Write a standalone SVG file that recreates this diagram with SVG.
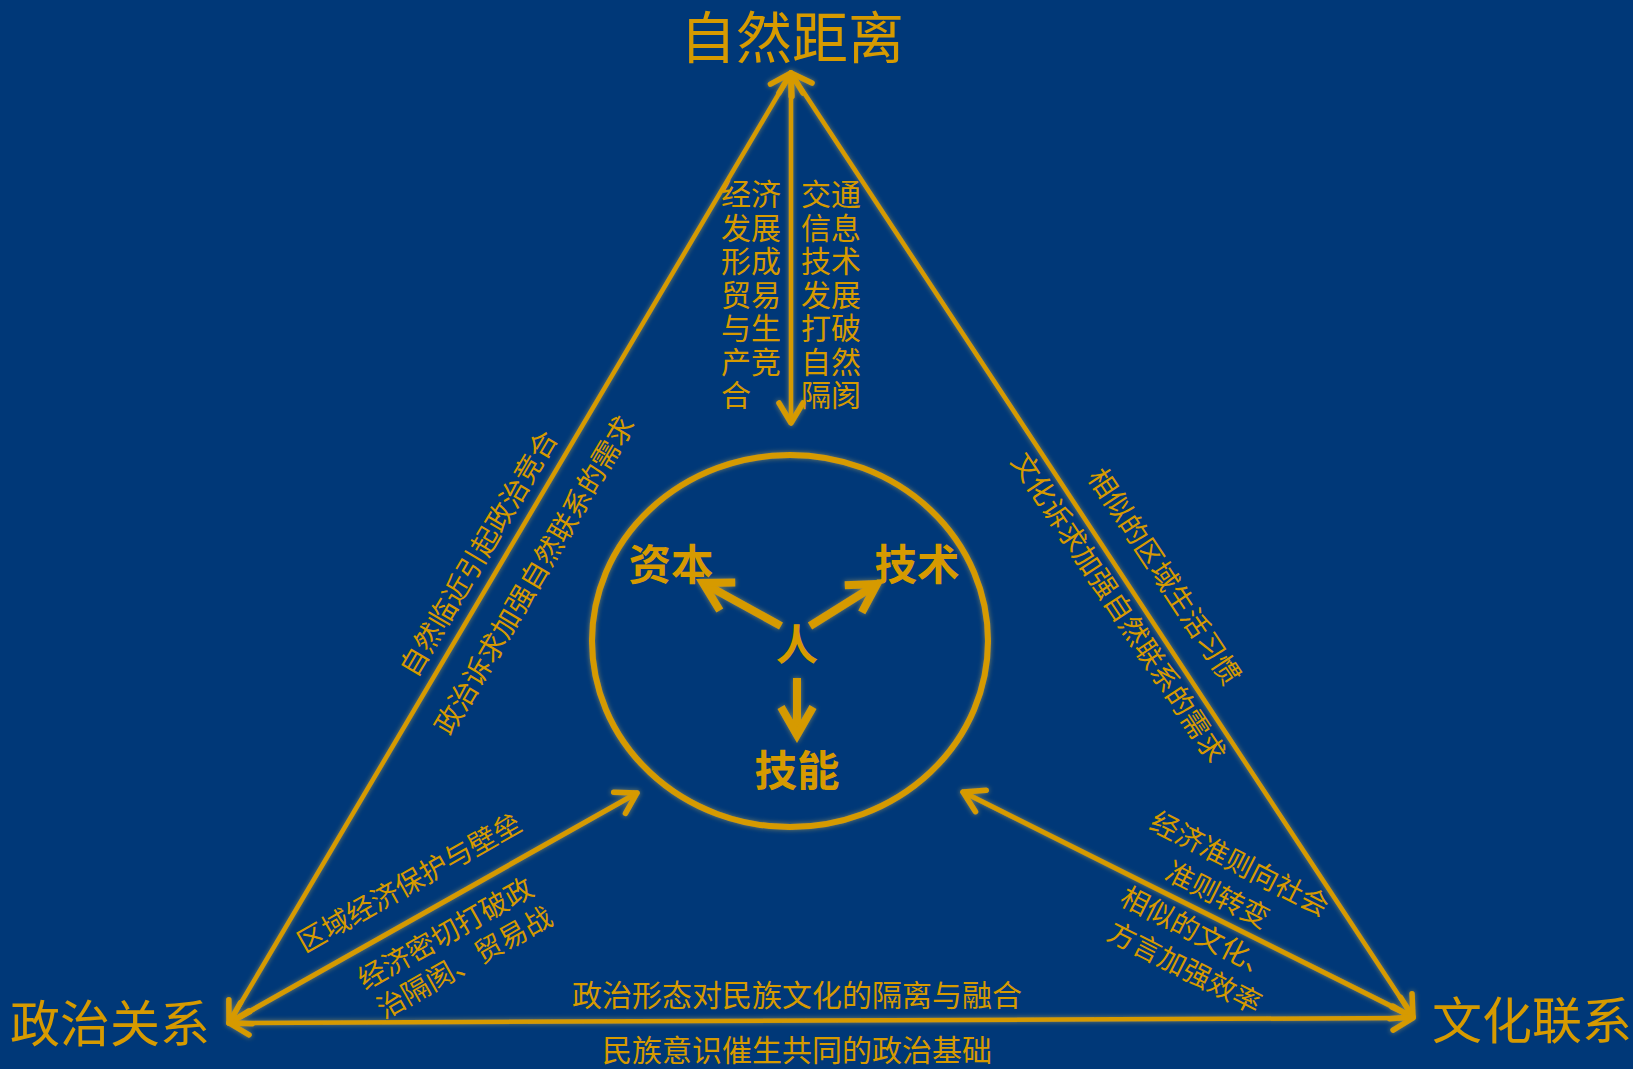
<svg xmlns="http://www.w3.org/2000/svg" width="1633" height="1069" viewBox="0 0 1633 1069">
  <defs>
    <style>
      .ln { stroke: #D69A00; stroke-width: 4.5; fill: none; stroke-linecap: round; }
      .ln2 { stroke: #D69A00; stroke-width: 5; fill: none; stroke-linecap: round; }
      .inner { stroke: #D69A00; stroke-width: 8; fill: none; stroke-linecap: butt; }
      .t { font-family: "Noto Sans CJK SC", "Noto Sans", sans-serif; fill: #D69A00; }
      .big { font-size: 50px; }
      .sm { font-size: 30px; }
      .rot { font-size: 28px; }
      .bold { font-size: 42.5px; font-weight: bold; }
    </style>
    <marker id="ah" markerUnits="userSpaceOnUse" markerWidth="60" markerHeight="60" viewBox="-30 -30 60 60" refX="0" refY="0" orient="auto-start-reverse" overflow="visible">
      <path d="M-20,-12 L0,0 L-20,12" fill="none" stroke="#D69A00" stroke-width="5.5" stroke-linecap="round" stroke-linejoin="round"/>
    </marker>
    <marker id="ahb" markerUnits="userSpaceOnUse" markerWidth="80" markerHeight="80" viewBox="-40 -40 80 80" refX="0" refY="0" orient="auto" overflow="visible">
      <path d="M-28,-16 L0,0 L-28,16" fill="none" stroke="#D69A00" stroke-width="8" stroke-linecap="butt" stroke-linejoin="miter"/>
    </marker>
    <filter id="glow" filterUnits="userSpaceOnUse" x="0" y="0" width="1633" height="1069">
      <feGaussianBlur in="SourceAlpha" stdDeviation="2.5" result="b"/>
      <feFlood flood-color="#F2C94C" flood-opacity="0.5"/>
      <feComposite in2="b" operator="in" result="g"/>
      <feMerge><feMergeNode in="g"/><feMergeNode in="SourceGraphic"/></feMerge>
    </filter>
  </defs>

  <rect x="0" y="0" width="1633" height="1069" fill="#003878"/>

  <g id="connectors" filter="url(#glow)">
    <line id="edge-left" class="ln" x1="791" y1="73" x2="229" y2="1023" marker-start="url(#ah)" marker-end="url(#ah)"/>
    <line id="edge-right" class="ln" x1="791" y1="73" x2="1413" y2="1017" marker-start="url(#ah)" marker-end="url(#ah)"/>
    <line id="edge-bottom" class="ln" x1="229" y1="1023" x2="1413" y2="1018" marker-start="url(#ah)" marker-end="url(#ah)"/>
    <line id="edge-top-center" class="ln" x1="791" y1="73" x2="791" y2="423" marker-start="url(#ah)" marker-end="url(#ah)"/>
    <line id="edge-left-center" class="ln2" x1="229" y1="1023" x2="637" y2="793" marker-start="url(#ah)" marker-end="url(#ah)"/>
    <line id="edge-right-center" class="ln2" x1="1413" y1="1017" x2="963" y2="792" marker-start="url(#ah)" marker-end="url(#ah)"/>
    <line id="edge-ren-ziben" class="inner" x1="781" y1="626" x2="703" y2="583" marker-end="url(#ahb)"/>
    <line id="edge-ren-jishu" class="inner" x1="810" y1="626" x2="877" y2="584" marker-end="url(#ahb)"/>
    <line id="edge-ren-jineng" class="inner" x1="797" y1="678" x2="797" y2="735" marker-end="url(#ahb)"/>
  </g>

  <g id="node-ziran">
    <text class="t" x="792" y="58" text-anchor="middle" font-size="56">自然距离</text>
  </g>
  <g id="node-zhengzhi">
    <text class="t big" x="110" y="1042" text-anchor="middle">政治关系</text>
  </g>
  <g id="node-wenhua">
    <text class="t big" x="1532" y="1039" text-anchor="middle">文化联系</text>
  </g>

  <g id="node-center">
    <ellipse cx="790" cy="641" rx="198" ry="186" fill="none" stroke="#D69A00" stroke-width="6" filter="url(#glow)"/>
  </g>
  <g id="node-ziben">
    <text class="t bold" x="671" y="580" text-anchor="middle">资本</text>
  </g>
  <g id="node-jishu">
    <text class="t bold" x="917" y="580" text-anchor="middle">技术</text>
  </g>
  <g id="node-ren">
    <text class="t bold" x="797" y="660" text-anchor="middle" font-size="50">人</text>
  </g>
  <g id="node-jineng">
    <text class="t bold" x="797" y="786" text-anchor="middle">技能</text>
  </g>

  <g id="edge-labels">
    <text class="t sm" x="721" text-anchor="start">
      <tspan x="721" y="205.4">经济</tspan>
      <tspan x="721" y="238.9">发展</tspan>
      <tspan x="721" y="272.4">形成</tspan>
      <tspan x="721" y="305.9">贸易</tspan>
      <tspan x="721" y="339.4">与生</tspan>
      <tspan x="721" y="372.9">产竞</tspan>
      <tspan x="721" y="406.4">合</tspan>
    </text>
    <text class="t sm" x="801" text-anchor="start">
      <tspan x="801" y="205.4">交通</tspan>
      <tspan x="801" y="238.9">信息</tspan>
      <tspan x="801" y="272.4">技术</tspan>
      <tspan x="801" y="305.9">发展</tspan>
      <tspan x="801" y="339.4">打破</tspan>
      <tspan x="801" y="372.9">自然</tspan>
      <tspan x="801" y="406.4">隔阂</tspan>
    </text>

    <text class="t rot" transform="translate(478,553) rotate(-59.4)" x="0" y="10.6" text-anchor="middle">自然临近引起政治竞合</text>
    <text class="t rot" transform="translate(534,575) rotate(-59.4)" x="0" y="10.6" text-anchor="middle">政治诉求加强自然联系的需求</text>

    <text class="t rot" transform="translate(1119,607) rotate(56.6)" x="0" y="10.6" text-anchor="middle">文化诉求加强自然联系的需求</text>
    <text class="t rot" transform="translate(1165,576) rotate(56.6)" x="0" y="10.6" text-anchor="middle">相似的区域生活习惯</text>

    <text class="t rot" transform="translate(409,882) rotate(-29.5)" x="0" y="10.6" text-anchor="middle">区域经济保护与壁垒</text>
    <text class="t rot" transform="translate(445,933) rotate(-29.5)" x="0" y="10.6" text-anchor="middle">经济密切打破政</text>
    <text class="t rot" transform="translate(464,962) rotate(-29.5)" x="0" y="10.6" text-anchor="middle">治隔阂、贸易战</text>

    <text class="t rot" transform="translate(1240,863) rotate(27)" x="0" y="10.8" text-anchor="middle" font-size="29">经济准则向社会</text>
    <text class="t rot" transform="translate(1218,894) rotate(27)" x="0" y="10.8" text-anchor="middle" font-size="29">准则转变</text>
    <text class="t rot" transform="translate(1198,932) rotate(27)" x="0" y="10.8" text-anchor="middle" font-size="29">相似的文化、</text>
    <text class="t rot" transform="translate(1185,967) rotate(27)" x="0" y="10.8" text-anchor="middle" font-size="29">方言加强效率</text>

    <text class="t sm" x="797" y="1006" text-anchor="middle">政治形态对民族文化的隔离与融合</text>
    <text class="t sm" x="797" y="1061" text-anchor="middle">民族意识催生共同的政治基础</text>
  </g>
</svg>
